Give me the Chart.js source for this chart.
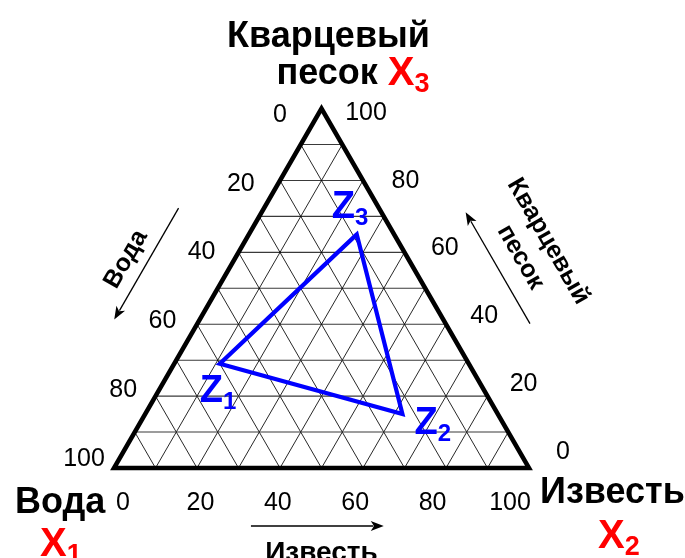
<!DOCTYPE html>
<html>
<head>
<meta charset="utf-8">
<script src="https://cdn.jsdelivr.net/npm/chart.js@4/dist/chart.umd.min.js"></script>
<style>
  html, body { margin: 0; padding: 0; background: #fff; }
  #wrap { width: 685px; height: 558px; }
</style>
</head>
<body>
<div id="wrap"><canvas id="chart" width="685" height="558"></canvas></div>
<script>
// Compositions of the mixtures Z1..Z3, % of each component
const pointSubs = ['1', '2', '3'];
const water = [60, 23, 9];    // X1 – Вода
const lime  = [11, 62, 26];   // X2 – Известь
const sand  = [29, 15, 65];   // X3 – Кварцевый песок
const polygonPath = [0, 2, 1, 0, 2];   // Z1 -> Z3 -> Z2 -> Z1 (last point closes the join)

// Axis ticks and grid
const tickValues = [0, 20, 40, 60, 80, 100];
const gridValues = [10, 20, 30, 40, 50, 60, 70, 80, 90];

// Ternary -> cartesian (unit triangle, base on y = 0)
const H = Math.sqrt(3) / 2;
function tern(a, b, c) {
  const s = a + b + c;
  return { x: (b + c / 2) / s, y: H * c / s };
}

// Canvas frame: where the unit triangle sits in the 685x558 page
const frame = { ox: 114, oy: 468, unit: 415, w: 685, h: 558 };
const xRange = { min: -frame.ox / frame.unit, max: (frame.w - frame.ox) / frame.unit };
const yRange = { min: -(frame.h - frame.oy) / frame.unit, max: frame.oy / frame.unit };

const FONT = "'Liberation Sans', Arial, Helvetica, sans-serif";

function seg(p, q, color, width, order) {
  return {
    data: [p, q], showLine: true, borderColor: color, borderWidth: width,
    pointRadius: 0, pointHoverRadius: 0, order: order, clip: false
  };
}

const datasets = [];
datasets.push({
  data: polygonPath.map(i => tern(water[i], lime[i], sand[i])),
  showLine: true, borderColor: '#0000ff', borderWidth: 4.2, borderJoinStyle: 'miter',
  pointRadius: 0, pointHoverRadius: 0, order: 0, clip: false
});
datasets.push({
  data: [tern(100, 0, 0), tern(0, 100, 0), tern(0, 0, 100), tern(100, 0, 0), tern(0, 100, 0)],
  showLine: true, borderColor: '#000', borderWidth: 4.5, borderJoinStyle: 'miter',
  pointRadius: 0, pointHoverRadius: 0, order: 1, clip: false
});
gridValues.forEach(v => {
  datasets.push(seg(tern(100 - v, 0, v), tern(0, 100 - v, v), '#3a3a3a', 1.1, 2));   // constant X3
  datasets.push(seg(tern(100 - v, v, 0), tern(0, v, 100 - v), '#000', 0.85, 2));      // constant X2
  datasets.push(seg(tern(v, 100 - v, 0), tern(v, 0, 100 - v), '#000', 0.85, 2));      // constant X1
});

function lerp(p, q, t) { return { x: p.x + (q.x - p.x) * t, y: p.y + (q.y - p.y) * t }; }
function add(p, dx, dy) { return { x: p.x + dx, y: p.y + dy }; }

function drawRich(ctx, parts, x, y) {
  let cx = x;
  ctx.textAlign = 'left';
  ctx.textBaseline = 'alphabetic';
  for (const p of parts) {
    ctx.font = p.font;
    ctx.fillStyle = p.color;
    ctx.fillText(p.text, cx, y + (p.dy || 0));
    cx += ctx.measureText(p.text).width;
  }
}

function arrow(ctx, p0, p1) {
  const ang = Math.atan2(p1.y - p0.y, p1.x - p0.x);
  const len = 13, half = 5;
  ctx.strokeStyle = '#000';
  ctx.fillStyle = '#000';
  ctx.lineWidth = 1.3;
  ctx.beginPath();
  ctx.moveTo(p0.x, p0.y);
  ctx.lineTo(p1.x - Math.cos(ang) * len * 0.8, p1.y - Math.sin(ang) * len * 0.8);
  ctx.stroke();
  ctx.beginPath();
  ctx.moveTo(p1.x, p1.y);
  ctx.lineTo(p1.x - Math.cos(ang) * len - Math.sin(ang) * half, p1.y - Math.sin(ang) * len + Math.cos(ang) * half);
  ctx.lineTo(p1.x - Math.cos(ang) * len * 0.75, p1.y - Math.sin(ang) * len * 0.75);
  ctx.lineTo(p1.x - Math.cos(ang) * len + Math.sin(ang) * half, p1.y - Math.sin(ang) * len - Math.cos(ang) * half);
  ctx.closePath();
  ctx.fill();
}

function rotatedText(ctx, text, p, angleDeg, font) {
  ctx.save();
  ctx.translate(p.x, p.y);
  ctx.rotate(angleDeg * Math.PI / 180);
  ctx.font = font;
  ctx.fillStyle = '#000';
  ctx.textAlign = 'center';
  ctx.textBaseline = 'middle';
  ctx.fillText(text, 0, 0);
  ctx.restore();
}

const ternaryDecor = {
  id: 'ternaryDecor',
  afterDatasetsDraw(chart) {
    const ctx = chart.ctx;
    const xs = chart.scales.x, ys = chart.scales.y;
    const px = (pt) => ({ x: xs.getPixelForValue(pt.x), y: ys.getPixelForValue(pt.y) });
    const pA = px(tern(100, 0, 0));   // Вода corner
    const pB = px(tern(0, 100, 0));   // Известь corner
    const pC = px(tern(0, 0, 100));   // Кварцевый песок corner
    const nL = { x: -H, y: -0.5 }, nR = { x: H, y: -0.5 };
    const onLeft = (v, d) => { const p = lerp(pC, pA, v / 100); return add(p, nL.x * d, nL.y * d); };
    const onRight = (v, d) => { const p = lerp(pB, pC, v / 100); return add(p, nR.x * d, nR.y * d); };
    const onBase = (v, d) => add(lerp(pA, pB, v / 100), 0, d);

    ctx.save();
    // tick labels
    ctx.font = '25px ' + FONT;
    ctx.fillStyle = '#000';
    ctx.textAlign = 'center';
    ctx.textBaseline = 'middle';
    const b0 = add(pA, 9, 35), b1 = add(pB, -19, 35);
    const l0 = add(pC, -41.5, 6.4), l1 = add(pA, -30, -9);
    const r0 = add(pB, 34, -16), r1 = add(pC, 44.5, 4.4);
    tickValues.forEach(v => {
      const t = v / 100;
      const pb = lerp(b0, b1, t); ctx.fillText(String(v), pb.x, pb.y);
      const pl = lerp(l0, l1, t); ctx.fillText(String(v), pl.x, pl.y);
      const pr = lerp(r0, r1, t); ctx.fillText(String(v), pr.x, pr.y);
    });

    // direction arrows with component names
    arrow(ctx, onLeft(38, 74), onLeft(69, 74));
    rotatedText(ctx, 'Вода', onLeft(55, 94), -60, 'bold 25px ' + FONT);
    arrow(ctx, onRight(30, 73), onRight(61, 73));
    rotatedText(ctx, 'Кварцевый', onRight(45, 130), 60, 'bold 25px ' + FONT);
    rotatedText(ctx, 'песок', onRight(45, 98), 60, 'bold 25px ' + FONT);
    arrow(ctx, onBase(33, 58), onBase(65, 58));
    const bt = onBase(50, 85);
    ctx.font = 'bold 28px ' + FONT;
    ctx.fillStyle = '#000';
    ctx.textAlign = 'center';
    ctx.textBaseline = 'middle';
    ctx.fillText('Известь', bt.x, bt.y);

    // corner titles
    const big = 'bold 36px ' + FONT, xFont = 'bold 40px ' + FONT, subFont = 'bold 27px ' + FONT;
    ctx.font = big;
    ctx.fillStyle = '#000';
    ctx.textAlign = 'center';
    ctx.textBaseline = 'alphabetic';
    ctx.fillText('Кварцевый', pC.x + 7, pC.y - 62);
    drawRich(ctx, [
      { text: 'песок ', font: big, color: '#000' },
      { text: 'X', font: xFont, color: '#ff0000', dy: 1 },
      { text: '3', font: subFont, color: '#ff0000', dy: 8 }
    ], pC.x - 45, pC.y - 25);
    drawRich(ctx, [{ text: 'Вода', font: big, color: '#000' }], pA.x - 99, pA.y + 45);
    drawRich(ctx, [
      { text: 'X', font: xFont, color: '#ff0000' },
      { text: '1', font: subFont, color: '#ff0000', dy: 7 }
    ], pA.x - 74, pA.y + 88);
    drawRich(ctx, [{ text: 'Известь', font: big, color: '#000' }], pB.x + 11, pB.y + 35);
    drawRich(ctx, [
      { text: 'X', font: xFont, color: '#ff0000' },
      { text: '2', font: subFont, color: '#ff0000', dy: 7 }
    ], pB.x + 69, pB.y + 80);

    // mixture point labels
    const zOffsets = [{ dx: -20, dy: 38 }, { dx: 12, dy: 20 }, { dx: -25, dy: -16 }];
    pointSubs.forEach((s, i) => {
      const p = px(tern(water[i], lime[i], sand[i]));
      drawRich(ctx, [
        { text: 'Z', font: 'bold 38px ' + FONT, color: '#0000ff' },
        { text: s, font: 'bold 24px ' + FONT, color: '#0000ff', dy: 7 }
      ], p.x + zOffsets[i].dx, p.y + zOffsets[i].dy);
    });
    ctx.restore();
  }
};

new Chart(document.getElementById('chart'), {
  type: 'scatter',
  data: { datasets: datasets },
  options: {
    responsive: false,
    animation: false,
    devicePixelRatio: 1,
    events: [],
    layout: { padding: 0 },
    plugins: { legend: { display: false }, tooltip: { enabled: false } },
    scales: {
      x: { type: 'linear', min: xRange.min, max: xRange.max, display: false },
      y: { type: 'linear', min: yRange.min, max: yRange.max, display: false }
    }
  },
  plugins: [ternaryDecor]
});
</script>
</body>
</html>
